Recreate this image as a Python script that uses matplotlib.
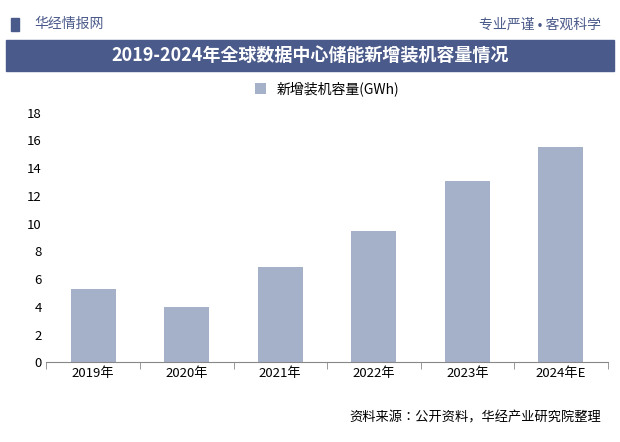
import matplotlib.pyplot as plt
from matplotlib.patches import Rectangle
from matplotlib import font_manager

names = {f.name for f in font_manager.fontManager.ttflist}
cjk = [n for n in ['Noto Sans CJK SC', 'Noto Sans CJK JP', 'Noto Sans CJK TC', 'Noto Sans CJK KR'] if n in names]
plt.rcParams['font.family'] = 'sans-serif'
plt.rcParams['font.sans-serif'] = cjk + ['DejaVu Sans']

years = ['2019年', '2020年', '2021年', '2022年', '2023年', '2024年E']
capacity = [5.3, 4.0, 6.9, 9.5, 13.1, 15.5]

fig = plt.figure(figsize=(6.2, 4.42), dpi=100)

# 顶部信息条
fig.text(0.055, 0.945, '华经情报网', fontsize=10, color='#4a5a8a', va='center')
fig.patches.append(Rectangle((0.018, 0.93), 0.012, 0.03, transform=fig.transFigure, color='#4a5a8a'))
fig.text(0.97, 0.945, '专业严谨 • 客观科学', fontsize=10, color='#4a5a8a', va='center', ha='right')

# 标题栏
fig.patches.append(Rectangle((0.01, 0.84), 0.98, 0.07, transform=fig.transFigure, color='#4a5a8a'))
fig.text(0.5, 0.875, '2019-2024年全球数据中心储能新增装机容量情况', fontsize=13,
         color='white', weight='bold', ha='center', va='center')

ax = fig.add_axes([0.075, 0.18, 0.905, 0.565])
ax.bar(years, capacity, width=0.48, color='#a5b0c9', label='新增装机容量(GWh)')
ax.set_ylim(0, 18)
ax.set_yticks(range(0, 19, 2))
ax.set_xlim(-0.5, len(years) - 0.5)
ax.tick_params(labelsize=9.5, length=0)
ax.set_xticks([i - 0.5 for i in range(len(years) + 1)], minor=True)
ax.tick_params(axis='x', which='minor', length=5, color='#888888')
ax.tick_params(axis='x', which='major', length=0)
for s in ['top', 'right', 'left']:
    ax.spines[s].set_visible(False)
ax.spines['bottom'].set_color('#888888')
ax.legend(loc='upper center', bbox_to_anchor=(0.5, 1.175), frameon=False,
          fontsize=10, handlelength=0.8, handleheight=0.8)

fig.text(0.97, 0.055, '资料来源：公开资料，华经产业研究院整理', fontsize=9.5, ha='right', va='center')

plt.savefig('out.png', dpi=100)
